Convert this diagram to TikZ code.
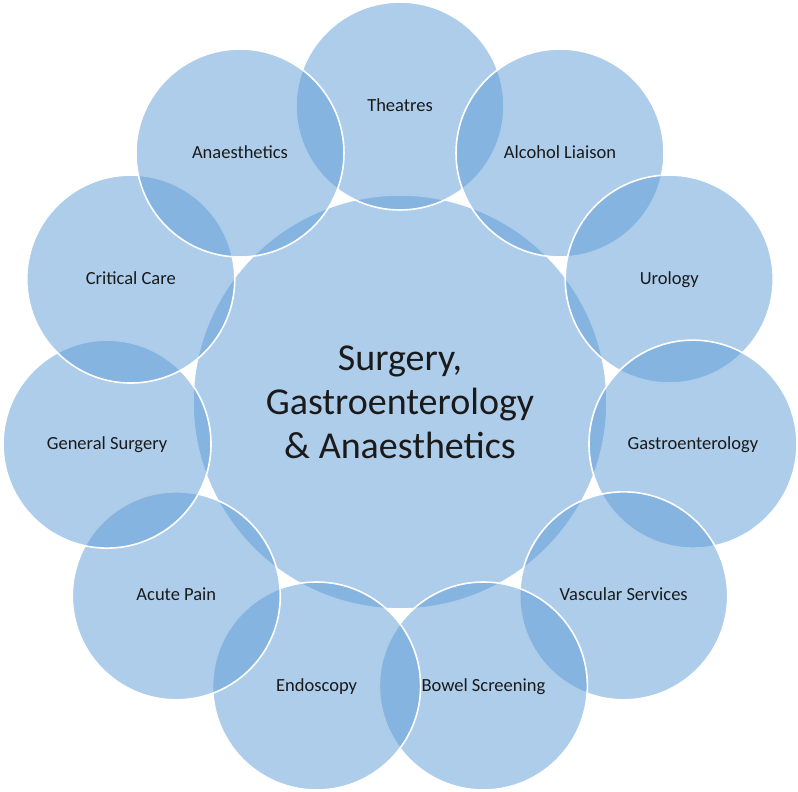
\documentclass[tikz,border=0pt]{standalone}
\usepackage{fontspec}
\setmainfont{Carlito}
\usetikzlibrary{calc}
\definecolor{acc}{HTML}{5B9BD5}
\definecolor{txt}{HTML}{1A1A1A}
\tikzset{
  disc/.style={circle, inner sep=0pt, fill=acc, fill opacity=0.5, text opacity=1,
    draw=white, line width=1.6pt, text=txt},
  petal/.style={disc, minimum size=208pt, text height=1.0em, text depth=0pt,
    font=\fontsize{18.5}{22}\selectfont},
  hub/.style={disc, minimum size=414pt, align=center,
    font=\fontsize{38}{44}\selectfont},
}
\begin{document}
\begin{tikzpicture}[x=1pt,y=-1pt]
\useasboundingbox (0,0) rectangle (798,792);
\coordinate (c) at (400,402);
\node[hub] (hub) at (c) {Surgery,\\Gastroenterology\\\& Anaesthetics};
\foreach \i/\lab in {0/Theatres,1/Alcohol Liaison,2/Urology,3/Gastroenterology,4/Vascular Services,5/Bowel Screening,6/Endoscopy,7/Acute Pain,8/General Surgery,9/Critical Care,10/Anaesthetics}{
  \node[petal] (p\i) at ($(c)+({-90+\i*360/11}:296)$) {\lab};
}
\end{tikzpicture}
\end{document}
